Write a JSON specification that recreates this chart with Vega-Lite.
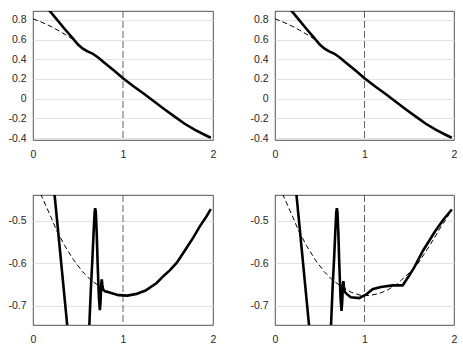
{
  "$schema": "https://vega.github.io/schema/vega-lite/v6.json",
  "padding": {"left": 5, "top": 10, "right": 5, "bottom": 5},
  "background": "white",
  "config": {
    "locale": {"number": {"decimal": ".", "thousands": ",", "grouping": [3], "currency": ["$", ""], "minus": "-"}},
    "view": {"stroke": "#262626", "strokeWidth": 0.8},
    "axis": {
      "labelFont": "Liberation Sans",
      "labelFontSize": 10.5,
      "labelColor": "#262626",
      "ticks": false,
      "domain": false,
      "title": null,
      "gridColor": "#e3e3e3",
      "gridWidth": 1,
      "labelOverlap": false,
      "labelBound": false
    },
    "axisY": {"labelPadding": 7, "minExtent": 27, "maxExtent": 27, "grid": true},
    "axisX": {"labelPadding": 9, "minExtent": 22, "maxExtent": 22, "grid": false, "labelFlush": false}
  },
  "datasets": {
    "ruleData": [{"x": 1}],
    "topDash": [
      {"x": 0, "y": 0.81}, {"x": 0.1, "y": 0.775}, {"x": 0.2, "y": 0.732}, {"x": 0.3, "y": 0.683},
      {"x": 0.4, "y": 0.628}, {"x": 0.46, "y": 0.59}, {"x": 0.5, "y": 0.552}
    ],
    "topSolid": [
      {"x": 0.15, "y": 0.93}, {"x": 0.25, "y": 0.82}, {"x": 0.35, "y": 0.71}, {"x": 0.44, "y": 0.614},
      {"x": 0.5, "y": 0.55}, {"x": 0.55, "y": 0.51}, {"x": 0.6, "y": 0.482}, {"x": 0.66, "y": 0.458},
      {"x": 0.72, "y": 0.42}, {"x": 0.8, "y": 0.36}, {"x": 0.9, "y": 0.285}, {"x": 1.0, "y": 0.208},
      {"x": 1.12, "y": 0.124}, {"x": 1.24, "y": 0.044}, {"x": 1.35, "y": -0.032}, {"x": 1.46, "y": -0.108},
      {"x": 1.57, "y": -0.18}, {"x": 1.685, "y": -0.255}, {"x": 1.8, "y": -0.318}, {"x": 1.9, "y": -0.364},
      {"x": 1.975, "y": -0.397}
    ],
    "botDash": [
      {"x": 0.05, "y": -0.42}, {"x": 0.09, "y": -0.44}, {"x": 0.2, "y": -0.492}, {"x": 0.26, "y": -0.522},
      {"x": 0.35, "y": -0.558}, {"x": 0.45, "y": -0.592}, {"x": 0.55, "y": -0.62}, {"x": 0.64, "y": -0.639},
      {"x": 0.75, "y": -0.656}, {"x": 0.85, "y": -0.668}, {"x": 0.95, "y": -0.675}, {"x": 1.05, "y": -0.676},
      {"x": 1.15, "y": -0.672}, {"x": 1.25, "y": -0.664}, {"x": 1.37, "y": -0.648}, {"x": 1.46, "y": -0.63},
      {"x": 1.52, "y": -0.619}, {"x": 1.6, "y": -0.6}, {"x": 1.7, "y": -0.568}, {"x": 1.78, "y": -0.541},
      {"x": 1.855, "y": -0.514}, {"x": 1.92, "y": -0.494}, {"x": 1.975, "y": -0.474}
    ],
    "botSolidL": [
      {"x": 0.2, "y": -0.353}, {"x": 0.24, "y": -0.44}, {"x": 0.31, "y": -0.592}, {"x": 0.38, "y": -0.745},
      {"x": 0.42, "y": -0.83}, {"x": 0.5, "y": -0.95}, {"x": 0.6, "y": -0.86}, {"x": 0.626, "y": -0.745},
      {"x": 0.643, "y": -0.66}, {"x": 0.66, "y": -0.59}, {"x": 0.675, "y": -0.52}, {"x": 0.685, "y": -0.48},
      {"x": 0.691, "y": -0.471}, {"x": 0.698, "y": -0.48}, {"x": 0.708, "y": -0.53}, {"x": 0.718, "y": -0.6},
      {"x": 0.732, "y": -0.68}, {"x": 0.743, "y": -0.71}, {"x": 0.751, "y": -0.69}, {"x": 0.758, "y": -0.65},
      {"x": 0.764, "y": -0.638}, {"x": 0.77, "y": -0.65}, {"x": 0.779, "y": -0.662}, {"x": 0.8, "y": -0.666},
      {"x": 0.85, "y": -0.669}, {"x": 0.95, "y": -0.675}, {"x": 1.05, "y": -0.676}, {"x": 1.15, "y": -0.672},
      {"x": 1.25, "y": -0.664}, {"x": 1.37, "y": -0.647}, {"x": 1.46, "y": -0.628}, {"x": 1.52, "y": -0.617},
      {"x": 1.6, "y": -0.598}, {"x": 1.7, "y": -0.566}, {"x": 1.78, "y": -0.54}, {"x": 1.855, "y": -0.513},
      {"x": 1.92, "y": -0.493}, {"x": 1.975, "y": -0.473}
    ],
    "botSolidR": [
      {"x": 0.2, "y": -0.353}, {"x": 0.24, "y": -0.44}, {"x": 0.31, "y": -0.592}, {"x": 0.38, "y": -0.745},
      {"x": 0.42, "y": -0.83}, {"x": 0.5, "y": -0.95}, {"x": 0.6, "y": -0.86}, {"x": 0.626, "y": -0.745},
      {"x": 0.643, "y": -0.66}, {"x": 0.66, "y": -0.59}, {"x": 0.675, "y": -0.52}, {"x": 0.685, "y": -0.48},
      {"x": 0.691, "y": -0.471}, {"x": 0.698, "y": -0.48}, {"x": 0.708, "y": -0.53}, {"x": 0.718, "y": -0.6},
      {"x": 0.732, "y": -0.68}, {"x": 0.743, "y": -0.712}, {"x": 0.751, "y": -0.69}, {"x": 0.758, "y": -0.652},
      {"x": 0.764, "y": -0.642}, {"x": 0.77, "y": -0.655}, {"x": 0.779, "y": -0.667}, {"x": 0.8, "y": -0.672},
      {"x": 0.847, "y": -0.68}, {"x": 0.94, "y": -0.682}, {"x": 1.015, "y": -0.674}, {"x": 1.09, "y": -0.661},
      {"x": 1.183, "y": -0.656}, {"x": 1.314, "y": -0.652}, {"x": 1.426, "y": -0.652}, {"x": 1.49, "y": -0.632},
      {"x": 1.556, "y": -0.61}, {"x": 1.65, "y": -0.572}, {"x": 1.78, "y": -0.528}, {"x": 1.88, "y": -0.498},
      {"x": 1.975, "y": -0.474}
    ]
  },
  "vconcat": [
    {
      "hconcat": [
        {
          "width": 180, "height": 129,
          "layer": [
            {"data": {"name": "ruleData"}, "mark": {"type": "rule", "color": "#3c3c3c", "strokeWidth": 0.8, "strokeDash": [7, 3]},
             "encoding": {"x": {"field": "x", "type": "quantitative", "scale": {"domain": [0, 2], "nice": false}, "axis": {"values": [0, 1, 2], "format": "~g"}}}},
            {"data": {"name": "topDash"}, "mark": {"type": "line", "clip": true, "color": "#000000", "strokeWidth": 1, "strokeDash": [5, 3]},
             "encoding": {"x": {"field": "x", "type": "quantitative", "axis": {"values": [0, 1, 2], "format": "~g"}}, "y": {"field": "y", "type": "quantitative", "scale": {"domain": [-0.42, 0.89], "nice": false, "zero": false}, "axis": {"values": [0.8, 0.6, 0.4, 0.2, 0, -0.2, -0.4], "format": ".1~f"}}}},
            {"data": {"name": "topSolid"}, "mark": {"type": "line", "clip": true, "color": "#000000", "strokeWidth": 2.6},
             "encoding": {"x": {"field": "x", "type": "quantitative", "axis": {"values": [0, 1, 2], "format": "~g"}}, "y": {"field": "y", "type": "quantitative", "axis": {"values": [0.8, 0.6, 0.4, 0.2, 0, -0.2, -0.4], "format": ".1~f"}}}}
          ]
        },
        {
          "width": 179, "height": 129,
          "layer": [
            {"data": {"name": "ruleData"}, "mark": {"type": "rule", "color": "#3c3c3c", "strokeWidth": 0.8, "strokeDash": [7, 3]},
             "encoding": {"x": {"field": "x", "type": "quantitative", "scale": {"domain": [0, 2], "nice": false}, "axis": {"values": [0, 1, 2], "format": "~g"}}}},
            {"data": {"name": "topDash"}, "mark": {"type": "line", "clip": true, "color": "#000000", "strokeWidth": 1, "strokeDash": [5, 3]},
             "encoding": {"x": {"field": "x", "type": "quantitative", "axis": {"values": [0, 1, 2], "format": "~g"}}, "y": {"field": "y", "type": "quantitative", "scale": {"domain": [-0.42, 0.89], "nice": false, "zero": false}, "axis": {"values": [0.8, 0.6, 0.4, 0.2, 0, -0.2, -0.4], "format": ".1~f"}}}},
            {"data": {"name": "topSolid"}, "mark": {"type": "line", "clip": true, "color": "#000000", "strokeWidth": 2.6},
             "encoding": {"x": {"field": "x", "type": "quantitative", "axis": {"values": [0, 1, 2], "format": "~g"}}, "y": {"field": "y", "type": "quantitative", "axis": {"values": [0.8, 0.6, 0.4, 0.2, 0, -0.2, -0.4], "format": ".1~f"}}}}
          ]
        }
      ],
      "spacing": 30
    },
    {
      "hconcat": [
        {
          "width": 180, "height": 130,
          "layer": [
            {"data": {"name": "ruleData"}, "mark": {"type": "rule", "color": "#3c3c3c", "strokeWidth": 0.8, "strokeDash": [7, 3]},
             "encoding": {"x": {"field": "x", "type": "quantitative", "scale": {"domain": [0, 2], "nice": false}, "axis": {"values": [0, 1, 2], "format": "~g"}}}},
            {"data": {"name": "botDash"}, "mark": {"type": "line", "clip": true, "color": "#000000", "strokeWidth": 1, "strokeDash": [5, 3]},
             "encoding": {"x": {"field": "x", "type": "quantitative", "axis": {"values": [0, 1, 2], "format": "~g"}}, "y": {"field": "y", "type": "quantitative", "scale": {"domain": [-0.745, -0.44], "nice": false, "zero": false}, "axis": {"values": [-0.5, -0.6, -0.7], "format": ".1~f"}}}},
            {"data": {"name": "botSolidL"}, "mark": {"type": "line", "clip": true, "color": "#000000", "strokeWidth": 2.6},
             "encoding": {"x": {"field": "x", "type": "quantitative", "axis": {"values": [0, 1, 2], "format": "~g"}}, "y": {"field": "y", "type": "quantitative", "axis": {"values": [-0.5, -0.6, -0.7], "format": ".1~f"}}}}
          ]
        },
        {
          "width": 179, "height": 130,
          "layer": [
            {"data": {"name": "ruleData"}, "mark": {"type": "rule", "color": "#3c3c3c", "strokeWidth": 0.8, "strokeDash": [7, 3]},
             "encoding": {"x": {"field": "x", "type": "quantitative", "scale": {"domain": [0, 2], "nice": false}, "axis": {"values": [0, 1, 2], "format": "~g"}}}},
            {"data": {"name": "botDash"}, "mark": {"type": "line", "clip": true, "color": "#000000", "strokeWidth": 1, "strokeDash": [5, 3]},
             "encoding": {"x": {"field": "x", "type": "quantitative", "axis": {"values": [0, 1, 2], "format": "~g"}}, "y": {"field": "y", "type": "quantitative", "scale": {"domain": [-0.745, -0.44], "nice": false, "zero": false}, "axis": {"values": [-0.5, -0.6, -0.7], "format": ".1~f"}}}},
            {"data": {"name": "botSolidR"}, "mark": {"type": "line", "clip": true, "color": "#000000", "strokeWidth": 2.6},
             "encoding": {"x": {"field": "x", "type": "quantitative", "axis": {"values": [0, 1, 2], "format": "~g"}}, "y": {"field": "y", "type": "quantitative", "axis": {"values": [-0.5, -0.6, -0.7], "format": ".1~f"}}}}
          ]
        }
      ],
      "spacing": 30
    }
  ],
  "spacing": 31
}
